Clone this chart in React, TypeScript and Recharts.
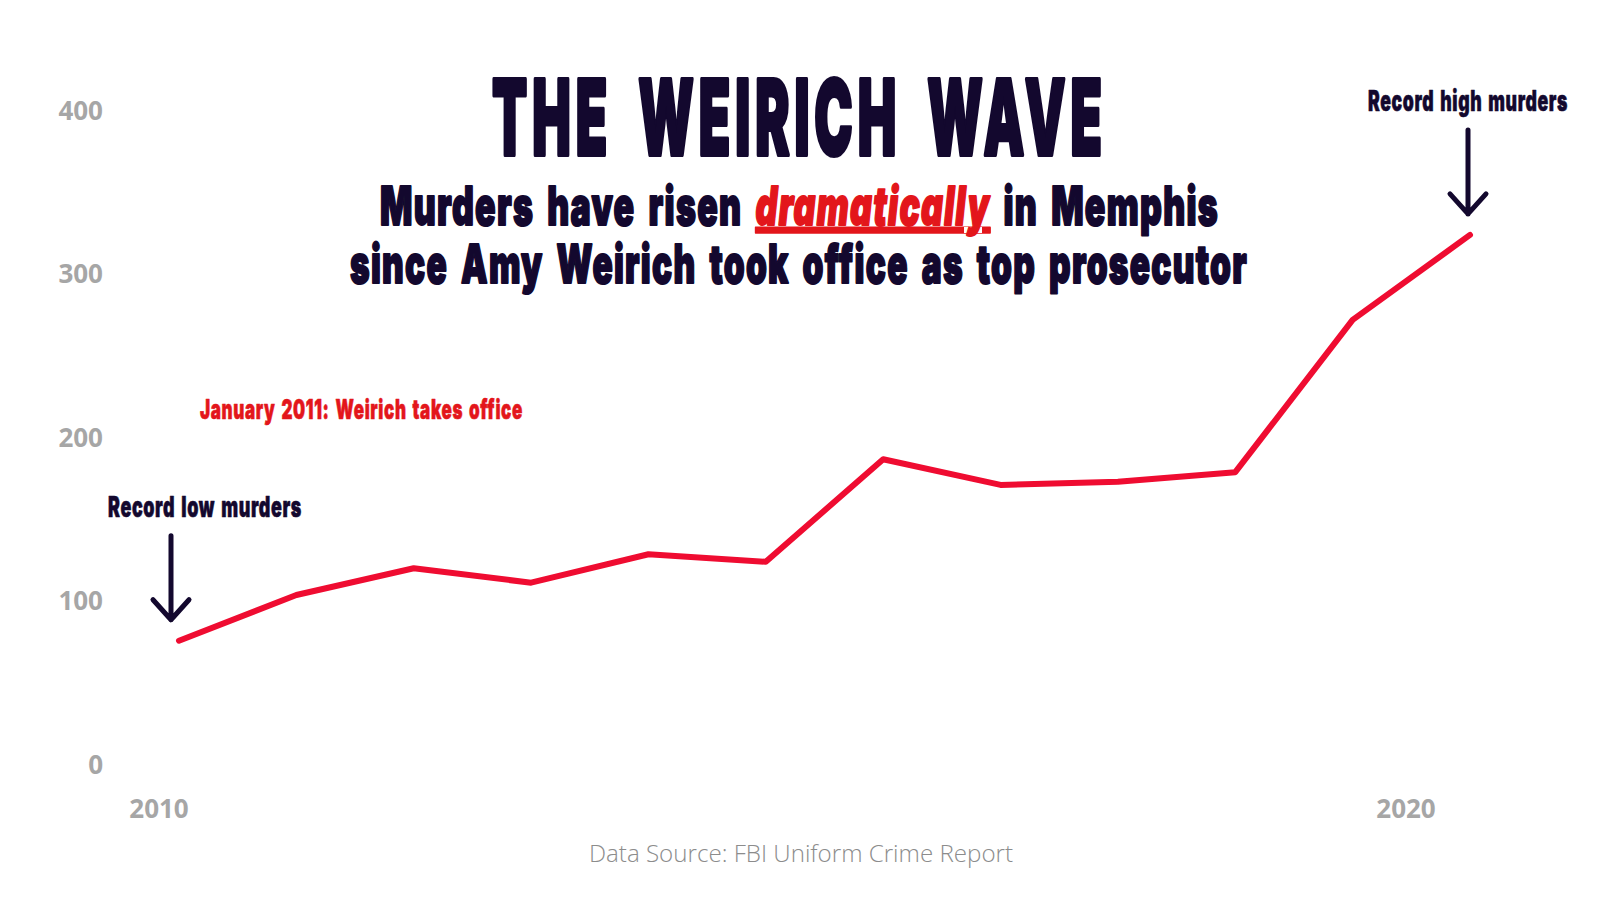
import React from 'react';
import { LineChart, Line, XAxis, YAxis, ReferenceDot } from 'recharts';

// Memphis murders per year
const years = [2010, 2011, 2012, 2013, 2014, 2015, 2016, 2017, 2018, 2019, 2020, 2021];
const murders = [75.7, 103.7, 120, 111.2, 128.6, 124, 186.7, 171, 173, 178.8, 271.9, 323.9];
const yTicks = [0, 100, 200, 300, 400];
const xTicks = [2010, 2020];

const data = years.map((year, i) => ({ year, murders: murders[i] }));

const NAVY = '#13082e';
const LINE_RED = '#ef0c31';
const TEXT_RED = '#e3161b';
const GREY = '#a6a6a6';
const HEAVY = "Inter, 'DejaVu Sans', sans-serif";

function Squeezed({
  x, y, width, size, fill = NAVY, stroke = 0, family = HEAVY, weight = 900,
  spacing = 0, wordSpacing = 0, children,
}: any) {
  return (
    <text
      x={x}
      y={y}
      textLength={width}
      lengthAdjust="spacingAndGlyphs"
      fontFamily={family}
      fontWeight={weight}
      fontSize={size}
      letterSpacing={spacing}
      wordSpacing={wordSpacing}
      fill={fill}
      stroke={stroke ? fill : 'none'}
      strokeWidth={stroke}
      strokeLinejoin="round"
      paintOrder="stroke"
    >
      {children}
    </text>
  );
}

// arrow + label sitting above a data point
function Callout({ cx, cy, label, arrowDx, textDx, textWidth }: any) {
  if (cx == null || cy == null) return null;
  const tx = cx + arrowDx;
  const tip = cy - 21;
  return (
    <g>
      <path
        d={`M${tx},${cy - 105} L${tx},${tip} M${tx - 18},${tip - 20} L${tx},${tip} L${tx + 18},${tip - 20}`}
        fill="none"
        stroke={NAVY}
        strokeWidth={5}
        strokeLinecap="round"
        strokeLinejoin="round"
      />
      <Squeezed x={cx + textDx} y={cy - 124} width={textWidth} size={28} stroke={0.6} spacing={1} wordSpacing={3}>
        {label}
      </Squeezed>
    </g>
  );
}

export default function App() {
  const last = years.length - 1;
  return (
    <div style={{ position: 'absolute', left: 0, top: 0, width: 1600, height: 900, background: '#fff' }}>
      <LineChart
        width={1600}
        height={900}
        data={data}
        margin={{ top: 110.5, right: 50, bottom: 75.5, left: 50 }}
      >
        <XAxis
          xAxisId="yr"
          dataKey="year"
          type="number"
          domain={[2010, 2021]}
          padding={{ left: 29, right: 80 }}
          hide
        />
        <XAxis
          xAxisId="lbl"
          dataKey="year"
          type="number"
          domain={[2010, 2021]}
          ticks={xTicks}
          padding={{ left: 9, right: 19.3 }}
          axisLine={false}
          tickLine={false}
          tickSize={0}
          tickMargin={35.5}
          height={60}
          tick={{ fill: GREY, fontSize: 26, fontWeight: 700, fontFamily: "'Open Sans', sans-serif" }}
        />
        <YAxis
          domain={[0, 400]}
          ticks={yTicks}
          width={100}
          axisLine={false}
          tickLine={false}
          tickSize={0}
          tickMargin={47}
          tick={{ fill: GREY, fontSize: 26, fontWeight: 700, fontFamily: "'Open Sans', sans-serif" }}
        />
        <Line
          xAxisId="yr"
          type="linear"
          dataKey="murders"
          stroke={LINE_RED}
          strokeWidth={6}
          strokeLinecap="round"
          strokeLinejoin="round"
          dot={false}
          isAnimationActive={false}
        />
        <ReferenceDot
          xAxisId="yr"
          x={years[0]}
          y={murders[0]}
          ifOverflow="visible"
          shape={(p: any) => (
            <Callout {...p} label="Record low murders" arrowDx={-8} textDx={-71} textWidth={194} />
          )}
        />
        <ReferenceDot
          xAxisId="yr"
          x={years[last]}
          y={murders[last]}
          ifOverflow="visible"
          shape={(p: any) => (
            <Callout {...p} label="Record high murders" arrowDx={-2} textDx={-102} textWidth={200} />
          )}
        />
      </LineChart>
      <svg
        width={1600}
        height={900}
        style={{ position: 'absolute', left: 0, top: 0, pointerEvents: 'none' }}
      >
        <Squeezed x={492} y={155} width={615} size={104} stroke={4} spacing={10} wordSpacing={22}>
          THE WEIRICH WAVE
        </Squeezed>
        <Squeezed x={380} y={224.5} width={839} size={53} stroke={2} spacing={2} wordSpacing={8}>
          Murders have risen{' '}
          <tspan fill={TEXT_RED} stroke={TEXT_RED} fontStyle="italic" textDecoration="underline">
            dramatically
          </tspan>{' '}
          in Memphis
        </Squeezed>
        <Squeezed x={350} y={282.7} width={898} size={53} stroke={2} spacing={2} wordSpacing={8}>
          since Amy Weirich took office as top prosecutor
        </Squeezed>
        <Squeezed x={200} y={419} width={323} size={27} fill={TEXT_RED} stroke={0.6} spacing={1} wordSpacing={3}>
          January 2011: Weirich takes office
        </Squeezed>
        <Squeezed
          x={589}
          y={862}
          width={424}
          size={23}
          fill="#8c8c8c"
          weight={300}
          family="'Open Sans', sans-serif"
        >
          Data Source: FBI Uniform Crime Report
        </Squeezed>
      </svg>
    </div>
  );
}
